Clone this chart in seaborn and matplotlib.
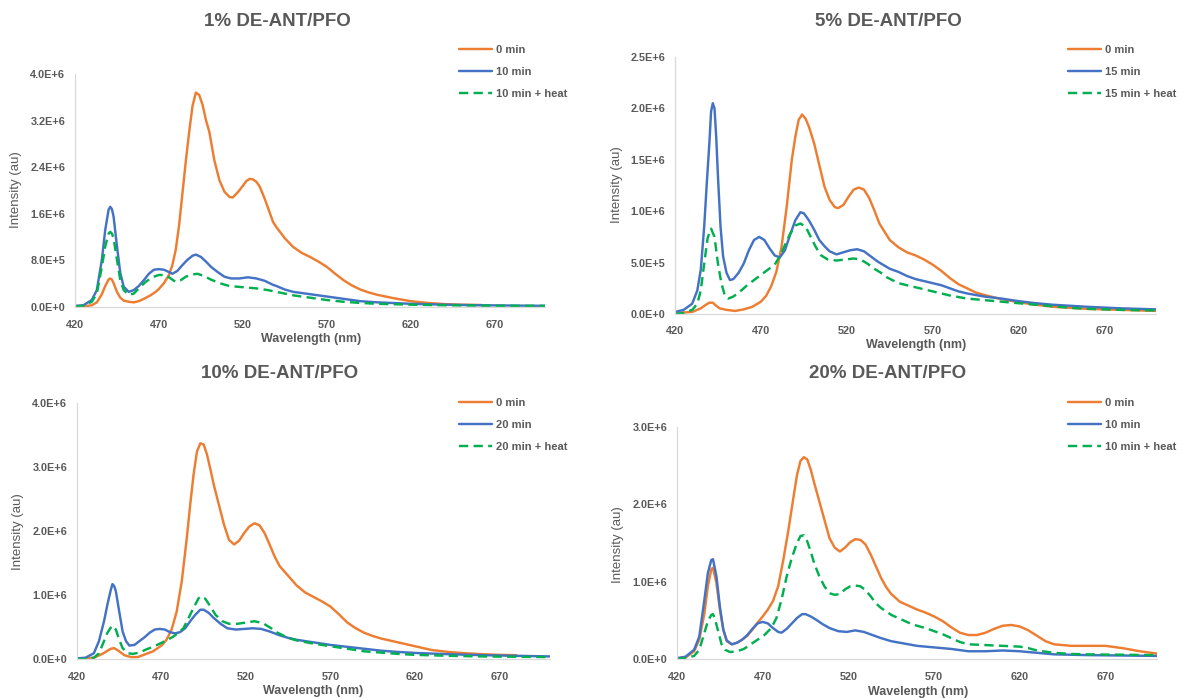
import numpy as np
import pandas as pd
import matplotlib
matplotlib.use("Agg")
import matplotlib.pyplot as plt
from matplotlib.ticker import MultipleLocator, FuncFormatter
import seaborn as sns

# ---------------- data (intensity in units of 1e6 au) ----------------
# 1% DE-ANT/PFO
wl_1_a = [420, 425, 430, 433, 436, 438, 440, 441, 442, 443, 445, 447, 449, 452, 455, 458, 461, 465, 468, 470,
          473, 476, 478, 480, 482, 484, 486, 488, 490, 492, 494, 496, 498, 500, 503, 506, 509, 512, 514, 517,
          520, 522, 524, 526, 528, 530, 533, 536, 538, 540, 545, 550, 555, 560, 565, 570, 575, 580, 585, 590,
          595, 600, 610, 620, 630, 640, 650, 662]
in_1_a = [0.01, 0.01, 0.03, 0.08, 0.22, 0.36, 0.47, 0.49, 0.47, 0.41, 0.26, 0.16, 0.11, 0.09, 0.08, 0.10, 0.14, 0.20, 0.26, 0.31,
          0.41, 0.55, 0.72, 0.98, 1.40, 1.95, 2.50, 3.00, 3.45, 3.68, 3.64, 3.47, 3.21, 3.01, 2.52, 2.18, 1.98, 1.89, 1.88, 1.97,
          2.08, 2.16, 2.20, 2.19, 2.15, 2.07, 1.86, 1.62, 1.46, 1.37, 1.18, 1.03, 0.93, 0.86, 0.78, 0.69, 0.57, 0.46, 0.37, 0.30,
          0.25, 0.21, 0.15, 0.10, 0.07, 0.05, 0.04, 0.035]
wl_1_b = [420, 425, 430, 433, 436, 438, 440, 441, 442, 443, 445, 447, 449, 452, 455, 458, 461, 464, 467, 470,
          473, 476, 478, 481, 484, 487, 490, 492, 495, 498, 501, 505, 509, 513, 518, 523, 528, 533, 538, 540,
          545, 550, 560, 570, 580, 590, 600, 620, 640, 660, 680, 700]
in_1_b = [0.02, 0.03, 0.12, 0.29, 0.81, 1.32, 1.67, 1.72, 1.68, 1.55, 1.04, 0.58, 0.35, 0.26, 0.29, 0.36, 0.46, 0.57, 0.64, 0.65,
          0.64, 0.60, 0.57, 0.62, 0.72, 0.81, 0.88, 0.90, 0.86, 0.78, 0.69, 0.60, 0.52, 0.49, 0.49, 0.51, 0.49, 0.45, 0.38, 0.36,
          0.30, 0.26, 0.22, 0.18, 0.14, 0.10, 0.08, 0.055, 0.04, 0.03, 0.025, 0.02]
wl_1_c = [420, 425, 430, 433, 436, 438, 440, 441, 442, 443, 445, 447, 449, 452, 455, 458, 462, 466, 470, 474,
          477, 480, 483, 486, 490, 493, 497, 501, 506, 512, 520, 528, 535, 540, 550, 560, 570, 580, 590, 600,
          620, 640, 660, 680, 700]
in_1_c = [0.01, 0.02, 0.09, 0.23, 0.69, 1.04, 1.26, 1.29, 1.26, 1.18, 0.81, 0.46, 0.29, 0.21, 0.23, 0.32, 0.43, 0.51, 0.55, 0.55,
          0.49, 0.43, 0.46, 0.52, 0.56, 0.57, 0.53, 0.47, 0.41, 0.36, 0.34, 0.32, 0.29, 0.26, 0.20, 0.16, 0.12, 0.09, 0.07, 0.055,
          0.04, 0.03, 0.025, 0.02, 0.02]

# 5% DE-ANT/PFO
wl_5_a = [420, 430, 435, 438, 440, 442, 444, 446, 450, 455, 460, 465, 470, 473, 476, 479, 482, 485, 488, 490,
          492, 494, 496, 498, 501, 504, 507, 510, 513, 515, 518, 521, 524, 527, 530, 533, 536, 539, 542, 545,
          550, 555, 560, 565, 570, 575, 580, 585, 590, 595, 600, 610, 620, 630, 640, 650, 660, 680, 700]
in_5_a = [0.01, 0.02, 0.055, 0.09, 0.11, 0.11, 0.08, 0.055, 0.04, 0.03, 0.045, 0.07, 0.12, 0.175, 0.27, 0.41, 0.65, 1.04, 1.50, 1.72,
          1.89, 1.94, 1.90, 1.82, 1.66, 1.45, 1.24, 1.11, 1.04, 1.03, 1.06, 1.14, 1.21, 1.23, 1.21, 1.13, 1.01, 0.88, 0.80, 0.72,
          0.65, 0.60, 0.57, 0.53, 0.48, 0.42, 0.35, 0.29, 0.25, 0.21, 0.185, 0.145, 0.115, 0.09, 0.07, 0.06, 0.05, 0.04, 0.03]
wl_5_b = [420, 425, 430, 433, 435, 437, 438.5, 440, 441, 442, 443, 444, 445, 446.5, 448, 450, 452, 454, 457, 460,
          463, 466, 469, 472, 475, 478, 481, 484, 487, 490, 493, 495, 498, 501, 504, 507, 510, 514, 518, 522,
          526, 530, 534, 538, 542, 545, 550, 555, 560, 565, 570, 575, 580, 585, 590, 600, 610, 620, 630, 640,
          650, 660, 680, 700]
in_5_b = [0.02, 0.04, 0.10, 0.23, 0.43, 0.85, 1.27, 1.66, 1.97, 2.05, 2.00, 1.72, 1.34, 0.85, 0.56, 0.40, 0.33, 0.34, 0.40, 0.49,
          0.62, 0.72, 0.75, 0.72, 0.64, 0.57, 0.55, 0.62, 0.77, 0.91, 0.99, 0.98, 0.91, 0.82, 0.72, 0.66, 0.61, 0.58, 0.60, 0.62,
          0.63, 0.61, 0.56, 0.51, 0.47, 0.44, 0.41, 0.37, 0.34, 0.32, 0.30, 0.28, 0.25, 0.22, 0.20, 0.17, 0.15, 0.125, 0.105, 0.09,
          0.08, 0.07, 0.055, 0.045]
wl_5_c = [420, 425, 430, 433, 435, 437, 439, 441, 443, 445, 447, 449, 451, 454, 458, 462, 466, 470, 474, 478,
          481, 484, 487, 490, 493, 496, 499, 502, 505, 509, 514, 519, 524, 528, 532, 536, 540, 543, 550, 560,
          570, 580, 590, 600, 610, 620, 630, 640, 650, 660, 680, 700]
in_5_c = [0.00, 0.01, 0.04, 0.10, 0.23, 0.49, 0.74, 0.83, 0.75, 0.49, 0.30, 0.18, 0.15, 0.17, 0.22, 0.28, 0.33, 0.38, 0.43, 0.48,
          0.56, 0.67, 0.78, 0.86, 0.88, 0.85, 0.75, 0.65, 0.57, 0.53, 0.52, 0.53, 0.54, 0.53, 0.49, 0.44, 0.40, 0.36, 0.30, 0.26,
          0.22, 0.18, 0.15, 0.135, 0.12, 0.105, 0.09, 0.075, 0.06, 0.05, 0.04, 0.035]

# 10% DE-ANT/PFO
wl_10_a = [420, 425, 430, 435, 440, 442, 445, 448, 452, 456, 460, 465, 470, 473, 476, 479, 482, 485, 487, 489,
           491, 493, 495, 497, 499, 501, 504, 507, 510, 513, 516, 519, 522, 525, 528, 531, 534, 537, 540, 545,
           550, 555, 560, 565, 570, 575, 580, 585, 590, 595, 600, 610, 620, 630, 640, 650, 660, 670, 680]
in_10_a = [0.00, 0.01, 0.02, 0.08, 0.16, 0.17, 0.12, 0.06, 0.03, 0.03, 0.07, 0.12, 0.21, 0.30, 0.46, 0.74, 1.21, 1.89, 2.41, 2.88,
           3.24, 3.37, 3.35, 3.19, 2.96, 2.72, 2.41, 2.10, 1.86, 1.79, 1.85, 1.97, 2.07, 2.12, 2.09, 1.97, 1.79, 1.60, 1.45, 1.30,
           1.15, 1.04, 0.97, 0.90, 0.82, 0.70, 0.57, 0.48, 0.41, 0.36, 0.32, 0.26, 0.20, 0.14, 0.11, 0.09, 0.075, 0.065, 0.06]
wl_10_b = [420, 425, 430, 433, 436, 438, 440, 441, 442, 443, 445, 447, 449, 451, 454, 457, 460, 463, 466, 469,
           472, 475, 478, 481, 484, 487, 490, 493, 495, 498, 501, 505, 509, 514, 519, 524, 529, 534, 538, 540,
           545, 550, 560, 570, 580, 590, 600, 610, 620, 640, 660, 680, 700]
in_10_b = [0.01, 0.02, 0.09, 0.28, 0.59, 0.85, 1.08, 1.17, 1.14, 1.06, 0.74, 0.43, 0.28, 0.21, 0.22, 0.28, 0.34, 0.41, 0.46, 0.47,
           0.46, 0.42, 0.40, 0.42, 0.48, 0.59, 0.69, 0.77, 0.77, 0.72, 0.64, 0.55, 0.48, 0.46, 0.47, 0.48, 0.47, 0.43, 0.39, 0.37,
           0.33, 0.30, 0.26, 0.22, 0.19, 0.16, 0.13, 0.11, 0.095, 0.075, 0.06, 0.05, 0.04]
wl_10_c = [420, 425, 430, 433, 436, 438, 440, 441, 443, 445, 447, 450, 453, 457, 461, 465, 469, 473, 477, 480,
           483, 486, 489, 492, 494, 496, 499, 502, 506, 510, 515, 520, 525, 530, 535, 538, 545, 550, 560, 570,
           580, 590, 600, 610, 620, 640, 660, 680, 700]
in_10_c = [0.00, 0.00, 0.02, 0.09, 0.28, 0.41, 0.49, 0.52, 0.46, 0.30, 0.17, 0.09, 0.08, 0.10, 0.15, 0.19, 0.24, 0.29, 0.35, 0.41,
           0.48, 0.64, 0.80, 0.95, 0.98, 0.94, 0.82, 0.69, 0.59, 0.55, 0.55, 0.57, 0.59, 0.56, 0.48, 0.42, 0.33, 0.29, 0.24, 0.20,
           0.16, 0.12, 0.10, 0.08, 0.065, 0.05, 0.04, 0.035, 0.03]

# 20% DE-ANT/PFO
wl_20_a = [420, 425, 430, 433, 436, 438, 440, 441, 443, 445, 447, 449, 452, 455, 458, 461, 464, 467, 470, 473,
           476, 479, 482, 485, 488, 490, 492, 494, 496, 498, 500, 503, 506, 509, 512, 515, 518, 521, 524, 527,
           530, 533, 536, 539, 542, 545, 550, 555, 560, 565, 570, 575, 580, 585, 590, 595, 600, 605, 610, 615,
           620, 625, 630, 635, 640, 650, 660, 670, 680, 690, 700]
in_20_a = [0.01, 0.02, 0.10, 0.25, 0.59, 0.94, 1.16, 1.18, 0.98, 0.64, 0.38, 0.23, 0.19, 0.21, 0.25, 0.30, 0.38, 0.47, 0.55, 0.64,
           0.75, 0.94, 1.28, 1.67, 2.10, 2.38, 2.56, 2.61, 2.58, 2.45, 2.28, 2.04, 1.80, 1.56, 1.44, 1.39, 1.44, 1.51, 1.55, 1.54,
           1.48, 1.35, 1.20, 1.05, 0.93, 0.84, 0.74, 0.69, 0.64, 0.60, 0.55, 0.49, 0.41, 0.34, 0.31, 0.31, 0.34, 0.39, 0.43, 0.44,
           0.42, 0.37, 0.30, 0.23, 0.19, 0.17, 0.17, 0.17, 0.14, 0.10, 0.07]
wl_20_b = [420, 425, 430, 433, 436, 438, 440, 441, 443, 445, 447, 449, 452, 455, 458, 461, 464, 467, 470, 473,
           476, 479, 481, 484, 487, 490, 493, 495, 498, 501, 505, 509, 514, 519, 524, 529, 534, 539, 545, 550,
           555, 560, 570, 580, 590, 600, 610, 620, 630, 640, 650, 660, 680, 700]
in_20_b = [0.01, 0.03, 0.12, 0.29, 0.77, 1.11, 1.28, 1.29, 1.07, 0.68, 0.38, 0.24, 0.19, 0.21, 0.25, 0.31, 0.39, 0.46, 0.48, 0.46,
           0.40, 0.35, 0.34, 0.39, 0.46, 0.53, 0.58, 0.58, 0.55, 0.51, 0.45, 0.40, 0.36, 0.35, 0.37, 0.35, 0.31, 0.27, 0.23, 0.21,
           0.19, 0.17, 0.15, 0.13, 0.10, 0.10, 0.11, 0.10, 0.08, 0.06, 0.055, 0.05, 0.045, 0.04]
wl_20_c = [420, 425, 430, 433, 436, 438, 440, 441, 442, 444, 446, 448, 451, 455, 459, 463, 467, 471, 475, 478,
           481, 484, 487, 490, 492, 494, 496, 498, 500, 503, 506, 509, 512, 515, 518, 521, 524, 527, 530, 533,
           536, 539, 545, 550, 555, 560, 565, 570, 575, 580, 585, 590, 600, 610, 620, 625, 630, 640, 650, 660,
           680, 700]
in_20_c = [0.00, 0.01, 0.04, 0.12, 0.34, 0.49, 0.57, 0.58, 0.53, 0.36, 0.19, 0.12, 0.09, 0.10, 0.13, 0.19, 0.25, 0.31, 0.40, 0.53,
           0.77, 1.07, 1.31, 1.50, 1.59, 1.60, 1.52, 1.39, 1.24, 1.07, 0.94, 0.85, 0.83, 0.84, 0.90, 0.94, 0.95, 0.94, 0.89, 0.81,
           0.72, 0.66, 0.57, 0.52, 0.47, 0.43, 0.40, 0.36, 0.32, 0.27, 0.22, 0.19, 0.18, 0.17, 0.16, 0.14, 0.11, 0.08, 0.065, 0.06,
           0.055, 0.05]

titles = ["1% DE-ANT/PFO", "5% DE-ANT/PFO", "10% DE-ANT/PFO", "20% DE-ANT/PFO"]
labels = [["0 min", "10 min", "10 min + heat"],
          ["0 min", "15 min", "15 min + heat"],
          ["0 min", "20 min", "20 min + heat"],
          ["0 min", "10 min", "10 min + heat"]]
series = [[(wl_1_a, in_1_a), (wl_1_b, in_1_b), (wl_1_c, in_1_c)],
          [(wl_5_a, in_5_a), (wl_5_b, in_5_b), (wl_5_c, in_5_c)],
          [(wl_10_a, in_10_a), (wl_10_b, in_10_b), (wl_10_c, in_10_c)],
          [(wl_20_a, in_20_a), (wl_20_b, in_20_b), (wl_20_c, in_20_c)]]
y_max = [4.0e6, 2.5e6, 4.0e6, 3.0e6]
y_step = [0.8e6, 0.5e6, 1.0e6, 1.0e6]

# ---------------- styling ----------------
sns.set_theme(style="white")
plt.rcParams["font.family"] = ["Liberation Sans", "DejaVu Sans"]

W, H = 1182, 698
GREY_TXT = "#595959"
AXIS_C = "#D9D9D9"
TICK_C = "#BFBFBF"
colors = ["#ED7D31", "#4472C4", "#00B050"]

# axes boxes in pixels: left, top, right, bottom
boxes = [(75, 74, 545, 307), (675, 57, 1156, 314), (77, 403, 550, 659), (677, 427, 1157, 659)]
title_pos = [(277, 21), (888, 21), (280, 374), (888, 374)]
xlab_pos = [(311, 339), (916, 345), (313, 691), (918, 692)]
ylab_pos = [(16, 190), (617, 185), (18, 532), (618, 545)]
leg_pos = [(459, 44), (1068, 44), (459, 397), (1068, 397)]


def sci_fmt(v, pos):
    if abs(v) < 1e-9:
        return "0.0E+0"
    e = int(np.floor(np.log10(abs(v)) + 1e-9))
    return f"{v / 10 ** e:.1f}E+{e}"


fig = plt.figure(figsize=(W / 100, H / 100), dpi=100)
fig.patch.set_facecolor("white")

for i in range(4):
    l, t, r, b = boxes[i]
    ax = fig.add_axes([l / W, 1 - b / H, (r - l) / W, (b - t) / H])
    ax.set_facecolor("white")
    for j, (wl, vals) in enumerate(series[i]):
        df = pd.DataFrame({"Wavelength": wl, "Intensity": np.asarray(vals) * 1e6})
        sns.lineplot(data=df, x="Wavelength", y="Intensity", ax=ax, color=colors[j],
                     linewidth=1.75, estimator=None, sort=False, label=labels[i][j], legend=False)
        if j == 2:
            ax.lines[-1].set_dashes([3.8, 2.2])
            ax.lines[-1].set_dash_capstyle("butt")

    ax.set_xlim(420, 700)
    ax.set_ylim(0, y_max[i])
    ax.xaxis.set_minor_locator(MultipleLocator(10))
    ax.yaxis.set_major_locator(MultipleLocator(y_step[i]))
    ax.yaxis.set_minor_locator(MultipleLocator(y_step[i] / 5))
    ax.yaxis.set_major_formatter(FuncFormatter(sci_fmt))
    ax.set_xticks(np.arange(420, 671, 50))
    ax.set_xlabel("")
    ax.set_ylabel("")
    for s in ["top", "right"]:
        ax.spines[s].set_visible(False)
    for s in ["left", "bottom"]:
        ax.spines[s].set_color(AXIS_C)
        ax.spines[s].set_linewidth(0.9)
    ax.tick_params(axis="both", which="both", direction="out", color=TICK_C,
                   length=3, width=0.8, labelsize=7.8, labelcolor=GREY_TXT)
    ax.tick_params(axis="y", which="major", pad=4)
    ax.tick_params(axis="x", which="major", pad=6)
    for lab in ax.get_xticklabels() + ax.get_yticklabels():
        lab.set_fontweight("bold")

    fig.text(title_pos[i][0] / W, 1 - title_pos[i][1] / H, titles[i], ha="center", va="center",
             fontsize=13.5, fontweight="bold", color=GREY_TXT)
    fig.text(xlab_pos[i][0] / W, 1 - xlab_pos[i][1] / H, "Wavelength (nm)", ha="center", va="center",
             fontsize=9, fontweight="bold", color=GREY_TXT)
    fig.text(ylab_pos[i][0] / W, 1 - ylab_pos[i][1] / H, "Intensity (au)", ha="center", va="center",
             rotation=90, fontsize=9.5, color=GREY_TXT)

    fig.legend(handles=ax.lines[:3], labels=labels[i], loc="upper left",
               bbox_to_anchor=(leg_pos[i][0] / W, 1 - (leg_pos[i][1] + 1) / H),
               frameon=False, borderpad=0, borderaxespad=0, handlelength=3.0,
               handletextpad=0.35, labelspacing=1.08,
               prop={"size": 8, "weight": "bold"}, labelcolor=GREY_TXT)

fig.savefig("out.png", dpi=100, facecolor="white")
